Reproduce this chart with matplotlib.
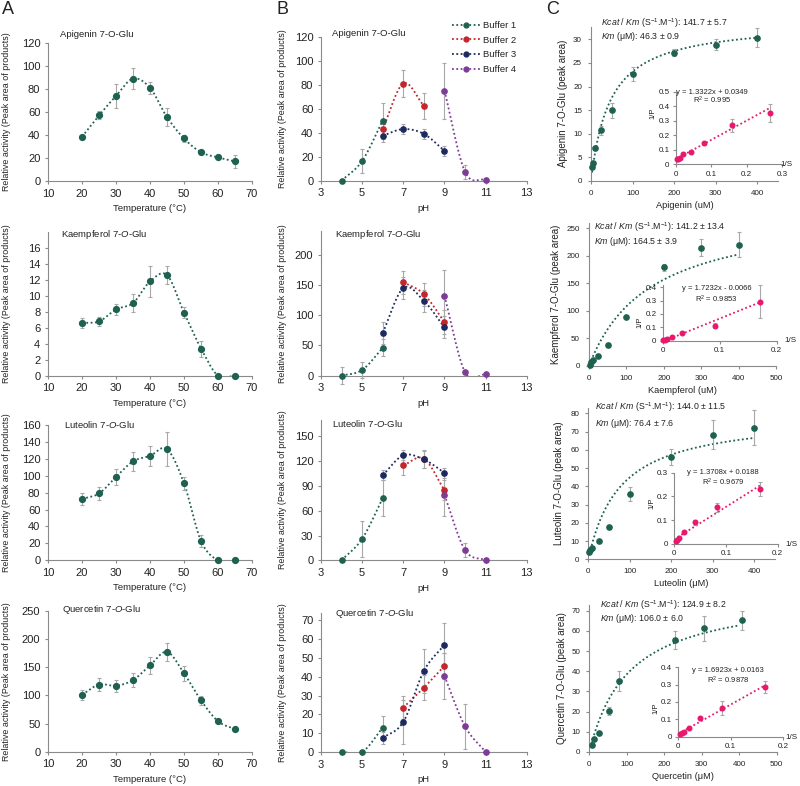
import numpy as np
import matplotlib
matplotlib.use("Agg")
import matplotlib.pyplot as plt
from matplotlib.lines import Line2D
from matplotlib.ticker import FuncFormatter

plt.rcParams['font.family'] = ['Liberation Sans', 'DejaVu Sans']
plt.rcParams['mathtext.fontset'] = 'custom'
plt.rcParams['mathtext.rm'] = 'Liberation Sans'
plt.rcParams['mathtext.it'] = 'Liberation Sans:italic'

# ---------------- data ----------------
compounds = ["Apigenin", "Kaempferol", "Luteolin", "Quercetin"]
titles = ["Apigenin 7-O-Glu", "Kaempferol 7-$\\it{O}$-Glu",
          "Luteolin 7-$\\it{O}$-Glu", "Quercetin 7-$\\it{O}$-Glu"]

# A: temperature
temps = [20, 25, 30, 35, 40, 45, 50, 55, 60, 65]
temp_api = [38.5, 57, 74, 89, 81, 55.5, 37, 25, 20.5, 17]
temp_api_err = [1.5, 3.5, 10.5, 9, 5.5, 8, 3, 1, 1.5, 6]
temp_kae = [6.6, 6.8, 8.3, 9.1, 11.8, 12.6, 7.9, 3.4, 0, 0]
temp_kae_err = [0.6, 0.6, 0.7, 1.1, 1.9, 1.1, 0.7, 1.0, 0, 0]
temp_lut = [72.5, 79, 98.5, 117, 123.5, 131.5, 91, 23, 0, 0]
temp_lut_err = [7, 7.5, 9, 11, 11.5, 20.5, 8, 7.5, 0, 0]
temp_que = [101, 119, 117, 127, 153, 177, 139, 91, 54, 40]
temp_que_err = [9, 12, 11, 12, 15, 16, 13, 8, 2, 2]

# B: pH, four buffers
ph_b1 = [4, 5, 6]
ph_b2_api = [6, 7, 8]
ph_b2 = [7, 8, 9]
ph_b3 = [6, 7, 8, 9]
ph_b4 = [9, 10, 11]

api_b1, api_b1_err = [0, 16.5, 50], [0, 10, 15]
api_b2, api_b2_err = [43, 81, 62.5], [5, 11, 11]
api_b3, api_b3_err = [37.5, 43, 39, 25], [5, 4, 4, 4]
api_b4, api_b4_err = [75, 7.5, 0.5], [23.5, 6, 0]

kae_b1, kae_b1_err = [0, 9.5, 46], [14, 14, 14]
kae_b2, kae_b2_err = [155, 135, 89], [19, 19, 20]
kae_b3, kae_b3_err = [71, 145, 124, 80], [18, 18, 18, 18]
kae_b4, kae_b4_err = [132, 6, 2], [43, 3, 0]

lut_b1, lut_b1_err = [0, 26, 75], [0, 22, 22]
lut_b2, lut_b2_err = [115, 123, 85], [12, 11, 12]
lut_b3, lut_b3_err = [103, 127, 122, 106], [6, 6, 10, 6]
lut_b4, lut_b4_err = [79, 12.5, 0], [25, 8, 0]

que_b1, que_b1_err = [0, 0, 12.9], [0, 0, 6]
que_b2, que_b2_err = [23.6, 34.2, 45.7], [6, 6.5, 7]
que_b3, que_b3_err = [7.4, 16, 43, 57], [3, 11.5, 11.5, 11.5]
que_b4, que_b4_err = [40.4, 13.7, 0], [12, 12, 0]

# C: kinetics
subst = [2.5, 5, 10, 25, 50, 100, 200, 300, 400]
subst_que = [6, 12.5, 26.7, 52, 78, 229, 307, 408]
kin_api = [3.0, 3.7, 7.0, 10.7, 15.0, 22.6, 27.2, 28.9, 30.4]
kin_api_err = [0.3, 0.4, 0.4, 1.0, 1.6, 1.5, 0.7, 1.1, 2.1]
kin_kae = [2, 6, 10.4, 17.8, 38, 89, 179, 215, 220.5]
kin_kae_err = [0, 0, 0, 0, 0, 0, 7, 15, 23]
kin_lut = [4, 5.3, 6, 10.1, 17.6, 35.8, 56.1, 68.3, 72.3]
kin_lut_err = [0, 0, 0, 0, 0.8, 4, 4.5, 8, 9.5]
kin_que = [3.5, 6.3, 9.6, 20.5, 35.2, 55.5, 61.2, 65.3]
kin_que_err = [0, 0, 0, 2, 4.8, 4.5, 6.2, 4.7]

km = [46.3, 164.5, 76.4, 106.0]
vmax = [33.9, 286, 79.3, 79.3]
curve_start = [2.5, 10, 8, 6]
kcat_text = ["141.7 ± 5.7", "141.2 ± 13.4", "144.0 ± 11.5", "124.9 ± 8.2"]
km_text = ["46.3 ± 0.9", "164.5 ± 3.9", "76.4 ± 7.6", "106.0 ± 6.0"]

# Lineweaver-Burk insets
lb_x_api = [0.0028, 0.0056, 0.011, 0.0197, 0.042, 0.0797, 0.159, 0.264]
lb_y_api = [0.034, 0.039, 0.046, 0.069, 0.087, 0.144, 0.268, 0.353]
lb_e_api = [0.003, 0.003, 0.004, 0.006, 0.006, 0.008, 0.045, 0.065]
lb_x_kae = [0.0012, 0.0035, 0.007, 0.017, 0.0345, 0.092, 0.171]
lb_y_kae = [0.005, 0.0075, 0.0125, 0.03, 0.055, 0.112, 0.293]
lb_e_kae = [0, 0, 0, 0, 0.004, 0.02, 0.125]
lb_x_lut = [0.0032, 0.0064, 0.0103, 0.02, 0.04, 0.0836, 0.1666]
lb_y_lut = [0.0126, 0.018, 0.027, 0.052, 0.091, 0.154, 0.231]
lb_e_lut = [0, 0, 0, 0.003, 0.01, 0.018, 0.03]
lb_x_que = [0.0032, 0.007, 0.0108, 0.0203, 0.0413, 0.0825, 0.165]
lb_y_que = [0.015, 0.019, 0.025, 0.05, 0.106, 0.163, 0.288]
lb_e_que = [0, 0, 0, 0.004, 0.006, 0.04, 0.035]
lb_slope = [1.3322, 1.7232, 1.3708, 1.6923]
lb_icpt = [0.0349, -0.0066, 0.0188, 0.0163]
lb_eq = ["y = 1.3322x + 0.0349", "y = 1.7232x - 0.0066",
         "y = 1.3708x + 0.0188", "y = 1.6923x + 0.0163"]
lb_r2 = ["R$^2$ = 0.995", "R$^2$ = 0.9853", "R$^2$ = 0.9679", "R$^2$ = 0.9878"]

# ---------------- styling ----------------
GREEN, RED, NAVY, PURPLE = "#1f6150", "#c1272d", "#1c2a5e", "#7d3c98"
PINK, GREY, AXC, TXT = "#e8196d", "#a8a8a8", "#8a8a8a", "#222222"
DOT = (0, (1, 1.4))

W, H = 800, 786
fig = plt.figure(figsize=(8, 7.86), dpi=100)


def add_ax(l, t, r, b):
    ax = fig.add_axes([l / W, 1 - b / H, (r - l) / W, (b - t) / H])
    ax.patch.set_alpha(0)
    for s in ("top", "right"):
        ax.spines[s].set_visible(False)
    for s in ("left", "bottom"):
        ax.spines[s].set_color(AXC)
        ax.spines[s].set_linewidth(0.8)
    return ax


def ftext(x, y, s, **kw):
    fig.text(x / W, 1 - y / H, s, color=TXT, **kw)


def catmull(x, y, n=30):
    x = np.asarray(x, float)
    y = np.asarray(y, float)
    if len(x) < 3:
        return x, y
    P = np.column_stack([x, y])
    P = np.vstack([2 * P[0] - P[1], P, 2 * P[-1] - P[-2]])
    out = []
    t = np.linspace(0, 1, n, endpoint=False)[:, None]
    for i in range(1, len(P) - 2):
        p0, p1, p2, p3 = P[i - 1], P[i], P[i + 1], P[i + 2]
        seg = 0.5 * ((2 * p1) + (-p0 + p2) * t + (2 * p0 - 5 * p1 + 4 * p2 - p3) * t ** 2
                     + (-p0 + 3 * p1 - 3 * p2 + p3) * t ** 3)
        out.append(seg)
    out.append(P[-2][None, :])
    out = np.vstack(out)
    return out[:, 0], out[:, 1]


def series(ax, x, y, err, color, ms=4.2):
    sx, sy = catmull(x, y)
    ax.plot(sx, sy, ls=DOT, color=color, lw=1.3, zorder=2)
    ax.errorbar(x, y, yerr=err, fmt="none", ecolor=GREY, elinewidth=0.8,
                capsize=1.6, capthick=0.8, zorder=3, clip_on=False)
    ax.plot(x, y, "o", color=color, ms=ms, zorder=4, clip_on=False)


def tickstyle(ax, size, pad=3):
    ax.tick_params(direction="out", length=2.5, width=0.8, color=AXC,
                   labelsize=size, labelcolor=TXT, pad=pad)


# ---------------- column A ----------------
a_box = [(43, 181), (232, 375.7), (425, 560.3), (610.7, 751.7)]
a_ylim = [120, 18, 160, 250]
a_ytick = [(120, 20), (16, 2), (160, 20), (250, 50)]
a_vals = [(temp_api, temp_api_err), (temp_kae, temp_kae_err),
          (temp_lut, temp_lut_err), (temp_que, temp_que_err)]
a_title_px = [(60, 34.3), (61, 235), (64.3, 425), (61.7, 609)]

for i in range(4):
    t, b = a_box[i]
    ax = add_ax(48, t, 252, b)
    ax.set_xlim(10, 70)
    ax.set_ylim(0, a_ylim[i])
    ax.set_xticks(range(10, 71, 10))
    ax.set_yticks(np.arange(0, a_ytick[i][0] + 0.01, a_ytick[i][1]))
    tickstyle(ax, 8)
    series(ax, temps, a_vals[i][0], a_vals[i][1], GREEN)
    ax.set_ylabel("Relative activity (Peak area of products)", fontsize=6.4, color=TXT)
    ax.yaxis.set_label_coords((11.5 - 48) / 204, 0.5)
    ax.set_xlabel("Temperature (°C)", fontsize=6.8, color=TXT)
    ax.xaxis.set_label_coords(0.5, -23 / (b - t))
    ftext(*a_title_px[i], titles[i], fontsize=6.8, va="center", ha="left")

# ---------------- column B ----------------
b_box = [(36.7, 180.7), (230.7, 375.7), (419.8, 560.3), (612.7, 752)]
b_ylim = [120, 240, 170, 74]
b_ytick = [(120, 20), (200, 50), (150, 30), (70, 10)]
b_title_px = [(331.7, 33.3), (335, 234.3), (331.7, 423.3), (335, 614)]
b_data = [
    [(ph_b1, api_b1, api_b1_err), (ph_b2_api, api_b2, api_b2_err),
     (ph_b3, api_b3, api_b3_err), (ph_b4, api_b4, api_b4_err)],
    [(ph_b1, kae_b1, kae_b1_err), (ph_b2, kae_b2, kae_b2_err),
     (ph_b3, kae_b3, kae_b3_err), (ph_b4, kae_b4, kae_b4_err)],
    [(ph_b1, lut_b1, lut_b1_err), (ph_b2, lut_b2, lut_b2_err),
     (ph_b3, lut_b3, lut_b3_err), (ph_b4, lut_b4, lut_b4_err)],
    [(ph_b1, que_b1, que_b1_err), (ph_b2, que_b2, que_b2_err),
     (ph_b3, que_b3, que_b3_err), (ph_b4, que_b4, que_b4_err)],
]
buf_colors = [GREEN, RED, NAVY, PURPLE]

for i in range(4):
    t, b = b_box[i]
    ax = add_ax(321, t, 526.7, b)
    ax.set_xlim(3, 13)
    ax.set_ylim(0, b_ylim[i])
    ax.set_xticks(range(3, 14, 2))
    ax.set_yticks(np.arange(0, b_ytick[i][0] + 0.01, b_ytick[i][1]))
    tickstyle(ax, 8)
    for (px, py, pe), c in zip(b_data[i], buf_colors):
        series(ax, px, py, pe, c, ms=3.8)
    ax.set_ylabel("Relative activity (Peak area of products)", fontsize=6.4, color=TXT)
    ax.yaxis.set_label_coords((287 - 321) / 205.7, 0.5)
    ax.set_xlabel("pH", fontsize=6.8, color=TXT)
    ax.xaxis.set_label_coords(0.5, -23.5 / (b - t))
    ftext(*b_title_px[i], titles[i], fontsize=6.8, va="center", ha="left")

handles = [Line2D([], [], color=c, ls=DOT, lw=1.3, marker="o", ms=3.5)
           for c in buf_colors]
fig.legend(handles, ["Buffer 1", "Buffer 2", "Buffer 3", "Buffer 4"],
           loc="upper left", bbox_to_anchor=(452 / W, 1 - 21 / H), frameon=False,
           fontsize=6.8, handlelength=3.0, handletextpad=0.3, labelspacing=0.6,
           borderpad=0, borderaxespad=0, labelcolor=TXT)

# ---------------- column C ----------------
c_box = [(591, 26.7, 778, 180.7), (589, 223, 776, 365.7),
         (588.3, 408, 775, 559.3), (589.3, 605, 776.7, 752)]
c_xlim = [450, 500, 450, 500]
c_ylim = [32.7, 260, 83, 72.8]
c_ytick = [(30, 5), (250, 50), (80, 10), (70, 10)]
c_xs = [subst, subst, subst, subst_que]
c_ys = [(kin_api, kin_api_err), (kin_kae, kin_kae_err),
        (kin_lut, kin_lut_err), (kin_que, kin_que_err)]
c_xlabels = ["Apigenin (uM)", "Kaempferol (uM)", "Luteolin (μM)", "Quercetin (μM)"]
c_ylab_px = [568, 561, 564.3, 566.7]
c_ann_px = [(600.7, 23.3, 36.7), (594, 227.3, 242), (595, 407.3, 423.3), (600, 605, 618.3)]

ins_box = [(675.7, 91.7, 782.3, 164.3), (662.7, 284.6, 776.7, 340.7),
           (674, 472.7, 777.7, 544), (678.3, 667.3, 783.3, 736.7)]
ins_xlim = [0.3, 0.2, 0.2, 0.2]
ins_ylim = [0.5, 0.42, 0.3, 0.4]
ins_ytop = [0.5, 0.4, 0.3, 0.4]
ins_data = [(lb_x_api, lb_y_api, lb_e_api), (lb_x_kae, lb_y_kae, lb_e_kae),
            (lb_x_lut, lb_y_lut, lb_e_lut), (lb_x_que, lb_y_que, lb_e_que)]
ins_eq_px = [(711.7, 92.3, 100.7), (716.7, 288.7, 299.3),
             (723.3, 472, 482), (728.3, 670, 680.7)]
ins_p_px = [(652.5, 113), (639.5, 322), (651.5, 503.3), (655.5, 708.3)]
ins_s_px = [(786.7, 164), (790, 340.7), (791.7, 544), (791.7, 737.7)]
gfmt = FuncFormatter(lambda v, p: f"{v:g}")

for i in range(4):
    l, t, r, b = c_box[i]
    ax = add_ax(l, t, r, b)
    ax.set_xlim(0, c_xlim[i])
    ax.set_ylim(0, c_ylim[i])
    ax.set_xticks(range(0, c_xlim[i] + 1 if c_xlim[i] == 500 else 401, 100))
    ax.set_yticks(np.arange(0, c_ytick[i][0] + 0.01, c_ytick[i][1]))
    tickstyle(ax, 5.8, pad=4)
    s = np.linspace(curve_start[i], 400, 200)
    ax.plot(s, vmax[i] * s / (km[i] + s), ls=DOT, color=GREEN, lw=1.3, zorder=2)
    ax.errorbar(c_xs[i], c_ys[i][0], yerr=c_ys[i][1], fmt="none", ecolor=GREY,
                elinewidth=0.8, capsize=1.6, capthick=0.8, zorder=3, clip_on=False)
    ax.plot(c_xs[i], c_ys[i][0], "o", color=GREEN, ms=3.8, zorder=4, clip_on=False)
    ax.set_ylabel(f"{compounds[i]} 7-O-Glu (peak area)", fontsize=7, color=TXT)
    ax.yaxis.set_label_coords((c_ylab_px[i] - l) / (r - l), 0.5)
    ax.set_xlabel(c_xlabels[i], fontsize=6.7, color=TXT)
    ax.xaxis.set_label_coords(0.5, -20 / (b - t))
    ax_, y1, y2 = c_ann_px[i]
    ftext(ax_, y1, "$\\it{Kcat}$ / $\\it{Km}$ (S$^{-1}$.M$^{-1}$): " + kcat_text[i],
          fontsize=6.3, va="center", ha="left")
    ftext(ax_, y2, "$\\it{Km}$ (μM): " + km_text[i], fontsize=6.3, va="center", ha="left")

    # inset
    l2, t2, r2, b2 = ins_box[i]
    ia = add_ax(l2, t2, r2, b2)
    ia.set_xlim(0, ins_xlim[i])
    ia.set_ylim(0, ins_ylim[i])
    ia.set_xticks(np.arange(0, ins_xlim[i] + 1e-6, 0.1))
    ia.set_yticks(np.arange(0, ins_ytop[i] + 1e-6, 0.1))
    ia.xaxis.set_major_formatter(gfmt)
    ia.yaxis.set_major_formatter(gfmt)
    tickstyle(ia, 5.8, pad=2)
    lx, ly, le = ins_data[i]
    xs = np.array([max(0, -lb_icpt[i] / lb_slope[i]), max(lx)])
    ia.plot(xs, lb_slope[i] * xs + lb_icpt[i], ls=DOT, color=PINK, lw=1.3, zorder=2)
    ia.errorbar(lx, ly, yerr=le, fmt="none", ecolor=GREY, elinewidth=0.8,
                capsize=1.6, capthick=0.8, zorder=3, clip_on=False)
    ia.plot(lx, ly, "o", color=PINK, ms=3.3, zorder=4, clip_on=False)
    ex, ey1, ey2 = ins_eq_px[i]
    ftext(ex, ey1, lb_eq[i], fontsize=5.5, ha="center", va="center")
    ftext(ex, ey2, lb_r2[i], fontsize=5.5, ha="center", va="center")
    ftext(*ins_p_px[i], "1/P", fontsize=5.5, rotation=90, ha="center", va="center")
    ftext(*ins_s_px[i], "1/S", fontsize=5.8, ha="center", va="center")

# panel letters
ftext(2, 9, "A", fontsize=13, va="center", ha="left")
ftext(276, 9, "B", fontsize=13, va="center", ha="left")
ftext(546, 9, "C", fontsize=13, va="center", ha="left")

fig.savefig("out.png", dpi=100, facecolor="white")
